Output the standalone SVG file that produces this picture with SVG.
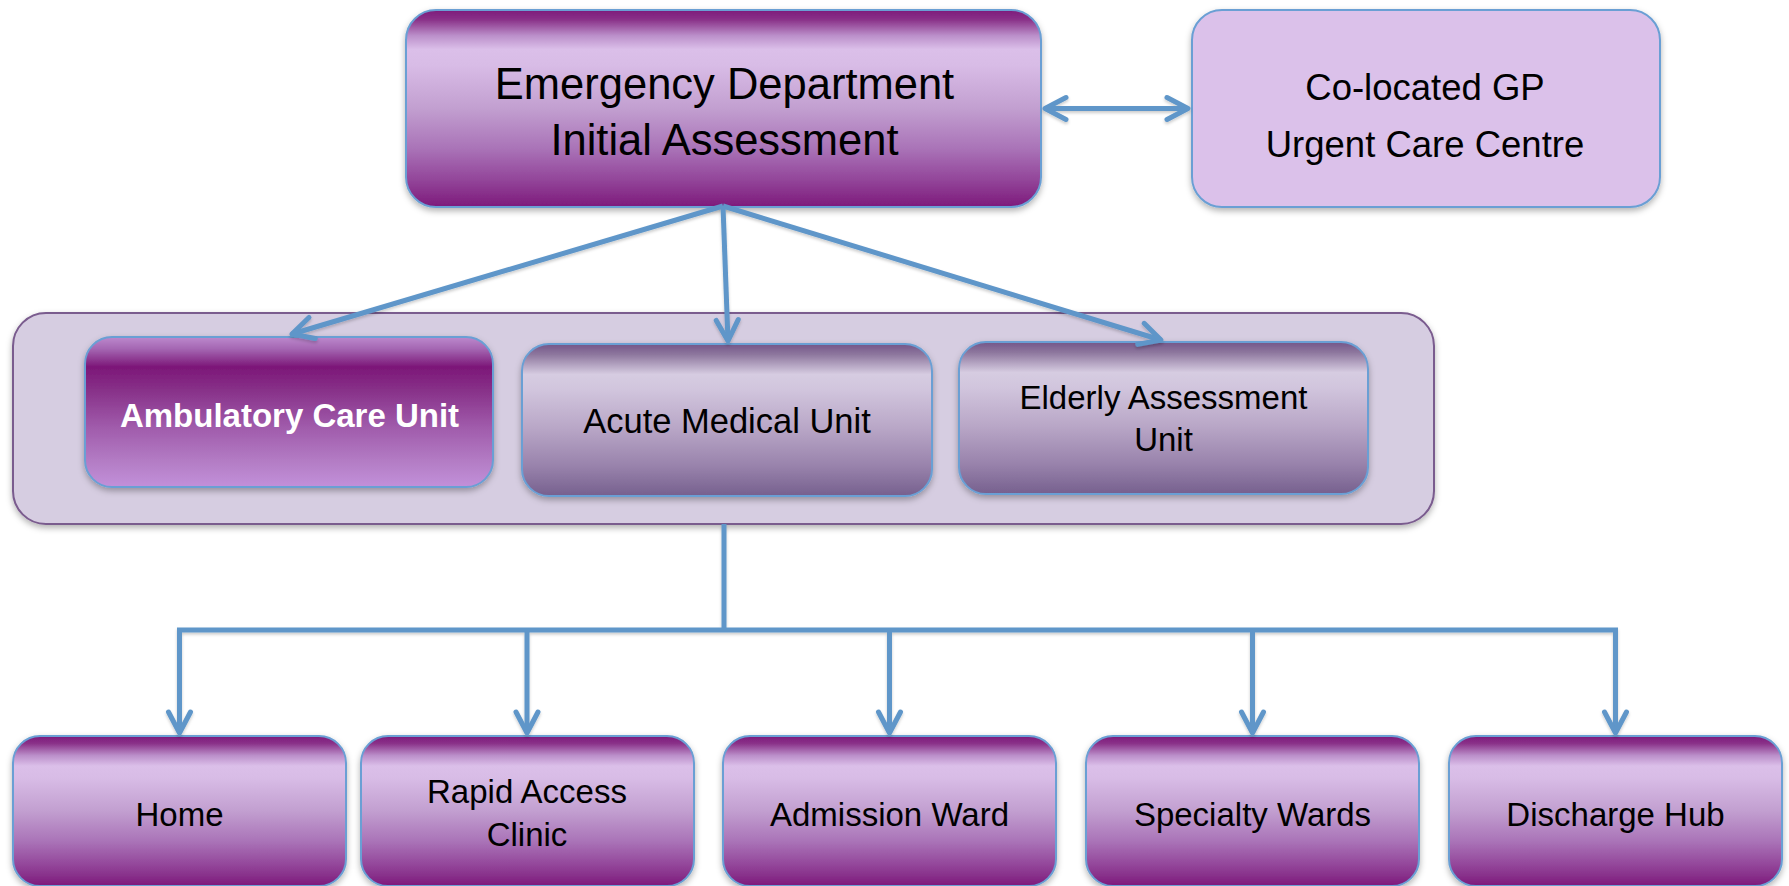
<svg xmlns="http://www.w3.org/2000/svg" width="1789" height="886" viewBox="0 0 1789 886">
  <defs>
    <style>
      .lbl { font-family: "Liberation Sans", Arial, sans-serif; fill: #000; text-anchor: middle; }
      .big { font-size: 43.5px; }
      .mid { font-size: 36.5px; }
      .sm { font-size: 33px; }
      .acute { font-size: 34.5px; }
      .bold { font-weight: bold; fill: #fff; }
      .box { stroke: #6a9fd4; stroke-width: 2; }
      .conn { fill: none; stroke: #5f96c9; stroke-width: 5; }
    </style>
    <!-- main purple: dark rim, light band near the top, deepening towards the bottom -->
    <linearGradient id="gPurple" x1="0" y1="0" x2="0" y2="1">
      <stop offset="0" stop-color="#7d1a7b"/>
      <stop offset="0.05" stop-color="#8a3289"/>
      <stop offset="0.13" stop-color="#bb8fca"/>
      <stop offset="0.2" stop-color="#dbbfe9"/>
      <stop offset="0.28" stop-color="#d8bce6"/>
      <stop offset="0.5" stop-color="#c29fd0"/>
      <stop offset="0.7" stop-color="#aa74b8"/>
      <stop offset="0.86" stop-color="#93469a"/>
      <stop offset="1" stop-color="#7d1a7b"/>
    </linearGradient>
    <!-- inverted purple for the highlighted unit -->
    <linearGradient id="gPressed" x1="0" y1="0" x2="0" y2="1">
      <stop offset="0" stop-color="#bc89cd"/>
      <stop offset="0.08" stop-color="#a466b2"/>
      <stop offset="0.2" stop-color="#7c1778"/>
      <stop offset="0.35" stop-color="#873088"/>
      <stop offset="0.6" stop-color="#a05bab"/>
      <stop offset="0.85" stop-color="#b57fc7"/>
      <stop offset="1" stop-color="#c290da"/>
    </linearGradient>
    <!-- muted grey-purple for the other assessment units -->
    <linearGradient id="gMuted" x1="0" y1="0" x2="0" y2="1">
      <stop offset="0" stop-color="#735689"/>
      <stop offset="0.07" stop-color="#8e779e"/>
      <stop offset="0.2" stop-color="#d6cce1"/>
      <stop offset="0.3" stop-color="#d1c5dd"/>
      <stop offset="0.55" stop-color="#b9a7c7"/>
      <stop offset="0.8" stop-color="#9983ac"/>
      <stop offset="1" stop-color="#76608e"/>
    </linearGradient>
    <filter id="shadow" x="-5%" y="-10%" width="110%" height="130%">
      <feDropShadow dx="0" dy="3" stdDeviation="3" flood-color="#000" flood-opacity="0.3"/>
    </filter>
    <filter id="lineShadow" x="-5%" y="-20%" width="110%" height="140%">
      <feDropShadow dx="0" dy="2" stdDeviation="1.5" flood-color="#000" flood-opacity="0.2"/>
    </filter>
    <marker id="chev" markerUnits="userSpaceOnUse" markerWidth="40" markerHeight="40" refX="0" refY="0" orient="auto-start-reverse" overflow="visible">
      <path d="M-21,-11 L0,0 L-21,11" fill="none" stroke="#5f96c9" stroke-width="5" stroke-linecap="round" stroke-linejoin="round"/>
    </marker>
  </defs>

  <rect width="1789" height="886" fill="#fff"/>

  <!-- assessment units container -->
  <g id="units-container" filter="url(#shadow)">
    <rect x="13" y="313" width="1421" height="211" rx="33" fill="#d6cde1" stroke="#7a5b8e" stroke-width="2"/>
  </g>

  <g id="ed">
    <rect class="box" x="406" y="10" width="635" height="197" rx="30" fill="url(#gPurple)" filter="url(#shadow)"/>
    <text class="lbl big" x="724.5" y="99">Emergency Department</text>
    <text class="lbl big" x="724.5" y="155">Initial Assessment</text>
  </g>

  <g id="gp">
    <rect class="box" x="1192" y="10" width="468" height="197" rx="30" fill="#dbc1ea" filter="url(#shadow)"/>
    <text class="lbl mid" x="1425" y="100">Co-located GP</text>
    <text class="lbl mid" x="1425" y="156.5">Urgent Care Centre</text>
  </g>

  <g id="ambulatory">
    <rect class="box" x="85" y="337" width="408" height="150" rx="27" fill="url(#gPressed)" filter="url(#shadow)"/>
    <text class="lbl sm bold" x="289.5" y="426.5">Ambulatory Care Unit</text>
  </g>

  <g id="acute">
    <rect class="box" x="522" y="344" width="410" height="152" rx="27" fill="url(#gMuted)" filter="url(#shadow)"/>
    <text class="lbl acute" x="727" y="433">Acute Medical Unit</text>
  </g>

  <g id="elderly">
    <rect class="box" x="959" y="342" width="409" height="152" rx="27" fill="url(#gMuted)" filter="url(#shadow)"/>
    <text class="lbl sm" x="1163.5" y="409">Elderly Assessment</text>
    <text class="lbl sm" x="1163.5" y="451">Unit</text>
  </g>

  <g id="home">
    <rect class="box" x="13" y="736" width="333" height="150" rx="27" fill="url(#gPurple)" filter="url(#shadow)"/>
    <text class="lbl sm" x="179.5" y="826">Home</text>
  </g>

  <g id="rapid-access">
    <rect class="box" x="361" y="736" width="333" height="150" rx="27" fill="url(#gPurple)" filter="url(#shadow)"/>
    <text class="lbl sm" x="527" y="803">Rapid Access</text>
    <text class="lbl sm" x="527" y="846">Clinic</text>
  </g>

  <g id="admission">
    <rect class="box" x="723" y="736" width="333" height="150" rx="27" fill="url(#gPurple)" filter="url(#shadow)"/>
    <text class="lbl sm" x="889.5" y="826">Admission Ward</text>
  </g>

  <g id="specialty">
    <rect class="box" x="1086" y="736" width="333" height="150" rx="27" fill="url(#gPurple)" filter="url(#shadow)"/>
    <text class="lbl sm" x="1252.5" y="826">Specialty Wards</text>
  </g>

  <g id="discharge">
    <rect class="box" x="1449" y="736" width="333" height="150" rx="27" fill="url(#gPurple)" filter="url(#shadow)"/>
    <text class="lbl sm" x="1615.5" y="826">Discharge Hub</text>
  </g>

  <g id="connectors" filter="url(#lineShadow)">
    <path class="conn" d="M1045,108.5 H1188" marker-start="url(#chev)" marker-end="url(#chev)"/>
    <path class="conn" d="M723,206 L292,334" marker-end="url(#chev)"/>
    <path class="conn" d="M723,206 L728,341" marker-end="url(#chev)"/>
    <path class="conn" d="M723,206 L1161,340" marker-end="url(#chev)"/>
    <path class="conn" d="M724,524 V630"/>
    <path class="conn" d="M179.5,630 H1615.5" stroke-linecap="square"/>
    <path class="conn" d="M179.5,630 V733" marker-end="url(#chev)"/>
    <path class="conn" d="M527,630 V733" marker-end="url(#chev)"/>
    <path class="conn" d="M889.5,630 V733" marker-end="url(#chev)"/>
    <path class="conn" d="M1252.5,630 V733" marker-end="url(#chev)"/>
    <path class="conn" d="M1615.5,630 V733" marker-end="url(#chev)"/>
  </g>
</svg>
